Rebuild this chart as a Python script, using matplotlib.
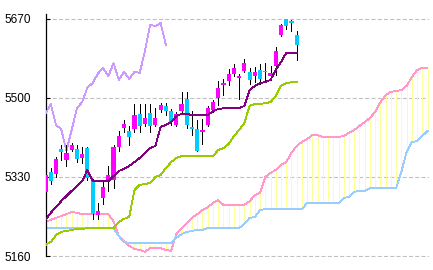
import matplotlib

matplotlib.use("Agg")
import matplotlib.pyplot as plt
import numpy as np

plt.rcParams["font.family"] = ["Liberation Sans", "DejaVu Sans"]
plt.rcParams["lines.scale_dashes"] = False

# candles (price values)
opens = [5298, 5341, 5336, 5390, 5367, 5388, 5390, 5371, 5392, 5324,
         5248, 5285, 5319, 5324, 5395, 5435, 5429, 5433, 5466, 5444,
         5468, 5442, 5474, 5483, 5472, 5442, 5472, 5498, 5438, 5433,
         5427, 5442, 5474, 5500, 5528, 5537, 5552, 5543, 5558, 5556,
         5547, 5560, 5558, 5547, 5569, 5636, 5670, 5666, 5636]
closes = [5334, 5321, 5369, 5384, 5382, 5399, 5369, 5379, 5328, 5250,
          5257, 5308, 5334, 5395, 5418, 5444, 5416, 5463, 5440, 5457,
          5440, 5457, 5485, 5472, 5448, 5466, 5487, 5442, 5433, 5386,
          5431, 5478, 5491, 5522, 5532, 5552, 5565, 5547, 5575, 5539,
          5556, 5541, 5556, 5554, 5601, 5657, 5655, 5661, 5614]
highs = [5339, 5349, 5373, 5399, 5399, 5403, 5399, 5395, 5395, 5326,
         5274, 5319, 5354, 5399, 5429, 5453, 5440, 5487, 5487, 5487,
         5487, 5478, 5489, 5489, 5476, 5470, 5513, 5513, 5472, 5453,
         5455, 5483, 5496, 5537, 5541, 5562, 5573, 5552, 5584, 5565,
         5567, 5573, 5575, 5569, 5610, 5659, 5670, 5668, 5644]
lows = [5293, 5315, 5330, 5367, 5354, 5386, 5362, 5360, 5324, 5240,
        5240, 5272, 5300, 5306, 5386, 5427, 5399, 5427, 5427, 5440,
        5427, 5440, 5470, 5463, 5442, 5440, 5470, 5435, 5420, 5386,
        5401, 5440, 5470, 5485, 5506, 5528, 5547, 5498, 5556, 5530,
        5534, 5530, 5539, 5539, 5549, 5633, 5648, 5644, 5582]

tenkan = [5238, 5253, 5265, 5278, 5289, 5300, 5311, 5321, 5345, 5321,
          5321, 5321, 5321, 5332, 5343, 5347, 5354, 5362, 5371, 5382,
          5392, 5397, 5438, 5442, 5448, 5461, 5466, 5466, 5463, 5463,
          5463, 5463, 5472, 5476, 5478, 5478, 5478, 5478, 5483, 5517,
          5526, 5532, 5534, 5539, 5560, 5577, 5597, 5597, 5597]
kijun = [5184, 5190, 5205, 5212, 5214, 5216, 5218, 5218, 5220, 5220,
         5220, 5220, 5220, 5220, 5233, 5240, 5244, 5302, 5313, 5315,
         5317, 5330, 5334, 5349, 5362, 5371, 5375, 5375, 5375, 5375,
         5375, 5375, 5375, 5388, 5392, 5401, 5418, 5431, 5446, 5483,
         5487, 5487, 5489, 5491, 5504, 5526, 5532, 5534, 5534]

senkou_a = [5233, 5238, 5242, 5246, 5250, 5255, 5253, 5250, 5250, 5250,
            5250, 5250, 5250, 5235, 5203, 5192, 5182, 5175, 5173, 5169,
            5177, 5177, 5177, 5173, 5171, 5207, 5220, 5231, 5242, 5250,
            5259, 5265, 5274, 5280, 5270, 5270, 5270, 5270, 5270, 5278,
            5291, 5296, 5330, 5339, 5345, 5356, 5362, 5382, 5397, 5405,
            5412, 5420, 5420, 5416, 5416, 5416, 5416, 5418, 5425, 5431,
            5440, 5448, 5457, 5470, 5491, 5506, 5513, 5515, 5517, 5526,
            5545, 5560, 5565, 5565]
senkou_b = [5220, 5220, 5220, 5220, 5220, 5220, 5220, 5220, 5220, 5220,
            5220, 5220, 5220, 5220, 5203, 5190, 5188, 5188, 5188, 5188,
            5188, 5188, 5188, 5188, 5188, 5199, 5207, 5212, 5214, 5216,
            5216, 5220, 5220, 5220, 5220, 5220, 5220, 5220, 5229, 5242,
            5244, 5259, 5261, 5261, 5261, 5261, 5261, 5261, 5261, 5261,
            5274, 5274, 5274, 5274, 5274, 5274, 5274, 5285, 5287, 5298,
            5300, 5300, 5306, 5306, 5306, 5306, 5306, 5306, 5341, 5384,
            5405, 5407, 5418, 5429]

yticks = [5160, 5330, 5500, 5670]
shift = 25

fig = plt.figure(figsize=(4.33, 2.70), dpi=100)
ax = fig.add_axes([45.5 / 433, 13.07 / 270, 383.6 / 433, 243 / 270])

x_c = np.arange(len(closes))
x_k = np.arange(len(senkou_a))
chikou = closes[shift:]
x_ch = np.arange(len(chikou))
lw = 0.6

# kumo hatching
ax.vlines(x_k, senkou_a, senkou_b, color="#ffff99", lw=0.72, zorder=1, antialiased=False)
ax.plot(x_k, senkou_a, color="#ff99cc", lw=lw, zorder=2, antialiased=False)
ax.plot(x_k, senkou_b, color="#99ccff", lw=lw, zorder=2, antialiased=False)

ax.plot(x_ch, chikou, color="#cc99ff", lw=lw, zorder=3, antialiased=False)

o = np.array(opens)
c = np.array(closes)
up = c >= o
ax.vlines(x_c, lows, highs, color="black", lw=0.72, zorder=4, antialiased=False)
ax.bar(x_c, np.maximum(np.abs(c - o), 2), bottom=np.minimum(o, c), width=0.8,
       color=np.where(up, "#ff00ff", "#00ccff"), zorder=5, antialiased=False)

ax.plot(x_c, kijun, color="#99cc00", lw=lw, zorder=6, antialiased=False)
ax.plot(x_c, tenkan, color="#800080", lw=lw, zorder=6, antialiased=False)

ax.set_xlim(0, 73.3)
ax.set_ylim(5158, 5680.8)
ax.set_yticks(yticks)
ax.set_yticklabels([str(t) for t in yticks], fontsize=8.5)
ax.set_xticks([])
ax.tick_params(axis="y", direction="in", length=3, width=0.8, pad=10.5, colors="black")
ax.grid(axis="y", color="#c0c0c0", lw=0.8, dashes=(2.9, 1.6))
ax.set_axisbelow(True)
for side in ["top", "right", "bottom"]:
    ax.spines[side].set_visible(False)
ax.spines["left"].set_bounds(5160, 5680.8)
ax.spines["left"].set_linewidth(0.9)

fig.savefig("out.png", dpi=100)
plt.close(fig)
